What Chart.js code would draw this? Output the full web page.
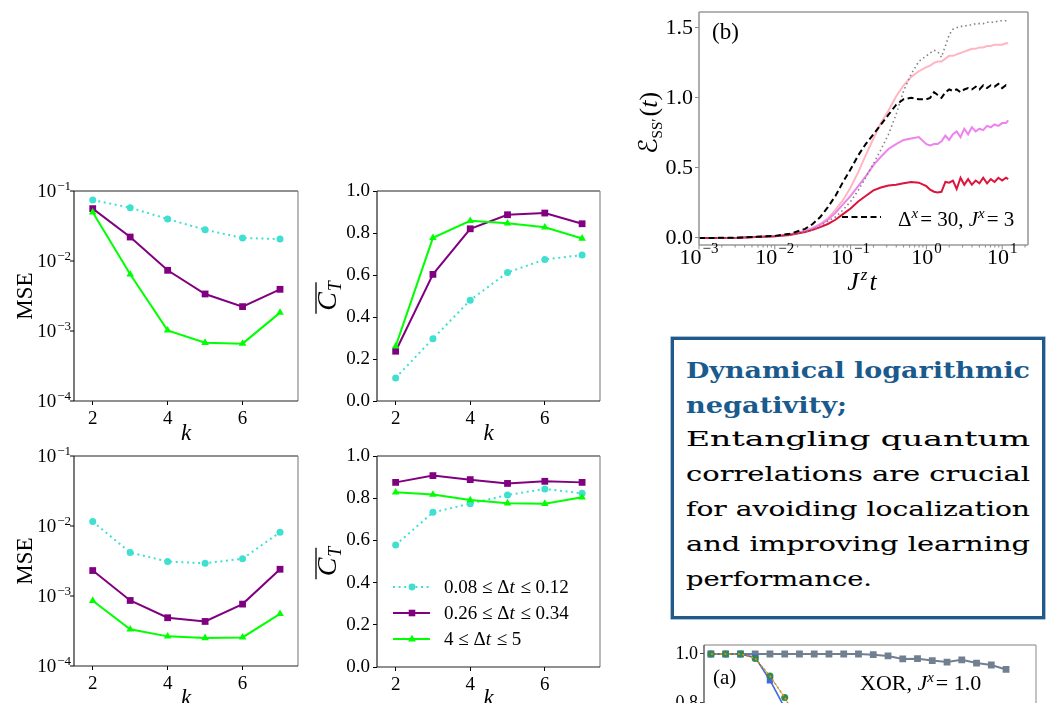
<!DOCTYPE html>
<html><head><meta charset="utf-8">
<script src="https://cdn.jsdelivr.net/npm/chart.js@4.4.0/dist/chart.umd.min.js"></script>
<style>
html,body{margin:0;padding:0;width:1060px;height:703px;overflow:hidden;background:#fff;position:relative;}
canvas{position:absolute;}
#note{position:absolute;left:671px;top:337px;width:344px;height:252px;border:3px solid #1f5a8a;padding:12px;box-shadow:0 0 0 0.6px #6f95b8;}
#note .ln{height:35px;line-height:35px;width:344px;white-space:nowrap;overflow:visible;}
#note .ln span{display:inline-block;transform-origin:0 50%;white-space:pre;}
#note .t{font-family:"DejaVu Serif",serif;font-weight:bold;font-size:23px;color:#1b5a8c;}
#note .b{font-family:"DejaVu Serif",serif;font-size:21px;color:#000;-webkit-text-stroke:0.1px #000;}
</style></head><body>
<div id="note">
<div class="ln t" data-w="344"><span>Dynamical logarithmic</span></div>
<div class="ln t" data-w="161"><span>negativity;</span></div>
<div class="ln b" data-w="344"><span>Entangling quantum</span></div>
<div class="ln b" data-w="344"><span>correlations are crucial</span></div>
<div class="ln b" data-w="344"><span>for avoiding localization</span></div>
<div class="ln b" data-w="344"><span>and improving learning</span></div>
<div class="ln b" data-w="186"><span>performance.</span></div>
</div>
<script>
// ---------------- data ----------------
const kValues = [2, 3, 4, 5, 6, 7];
const seriesLabels = ['0.08 ≤ Δt ≤ 0.12', '0.26 ≤ Δt ≤ 0.34', '4 ≤ Δt ≤ 5'];
const mseTopCyan   = [0.0743, 0.0578, 0.0398, 0.028, 0.0213, 0.0206];
const mseTopPurple = [0.056, 0.022, 0.00736, 0.00338, 0.00223, 0.00394];
const mseTopGreen  = [0.0496, 0.00646, 0.00102, 0.00068, 0.00066, 0.00183];
const ctTopCyan    = [0.11, 0.297, 0.48, 0.612, 0.674, 0.695];
const ctTopPurple  = [0.237, 0.603, 0.82, 0.887, 0.895, 0.844];
const ctTopGreen   = [0.26, 0.777, 0.858, 0.846, 0.827, 0.774];
const mseBotCyan   = [0.01156, 0.00418, 0.00311, 0.00294, 0.0034, 0.00815];
const mseBotPurple = [0.00231, 0.000863, 0.000489, 0.000433, 0.000766, 0.00241];
const mseBotGreen  = [0.000855, 0.000334, 0.000265, 0.000251, 0.000256, 0.000557];
const ctBotCyan    = [0.578, 0.733, 0.774, 0.815, 0.844, 0.823];
const ctBotPurple  = [0.875, 0.907, 0.888, 0.870, 0.880, 0.875];
const ctBotGreen   = [0.828, 0.817, 0.791, 0.776, 0.774, 0.804];
const kTicks = [2, 4, 6];
const mseExps = [-4, -3, -2, -1];
const ctTicks = [0, 0.2, 0.4, 0.6, 0.8, 1.0];

// panel (b)
const tB = [0.001, 0.00316, 0.01, 0.0158, 0.0251, 0.0316, 0.0398, 0.0501, 0.0631, 0.0794,
  0.1, 0.126, 0.158, 0.2, 0.251, 0.316, 0.398, 0.501, 0.631, 0.794,
  1.0, 1.12, 1.26, 1.41, 1.58, 1.78, 2.0, 2.24, 2.51, 2.82, 3.16, 3.55, 3.98, 4.47, 5.01, 5.62, 6.31, 7.08, 7.94, 8.91, 10.0, 11.2, 12.0];
const bBlack = [0, 0.002, 0.015, 0.03, 0.065, 0.10, 0.15, 0.22, 0.30, 0.40, 0.49, 0.59, 0.67, 0.74, 0.81, 0.88, 0.95, 0.99, 1.00, 0.99,
  0.99, 1.00, 1.04, 1.02, 1.00, 1.04, 1.06, 1.05, 1.06, 1.04, 1.06, 1.07, 1.06, 1.08, 1.06, 1.09, 1.07, 1.09, 1.08, 1.10, 1.07, 1.09, 1.08];
const bGray = [0, 0.002, 0.012, 0.022, 0.045, 0.06, 0.085, 0.12, 0.15, 0.20, 0.26, 0.34, 0.43, 0.53, 0.63, 0.74, 0.88, 1.05, 1.17, 1.26,
  1.30, 1.32, 1.34, 1.33, 1.29, 1.37, 1.45, 1.49, 1.50, 1.51, 1.51, 1.52, 1.52, 1.53, 1.53, 1.53, 1.54, 1.54, 1.54, 1.55, 1.55, 1.55, 1.55];
const bPink = [0, 0.002, 0.012, 0.025, 0.05, 0.07, 0.10, 0.14, 0.20, 0.27, 0.36, 0.47, 0.59, 0.71, 0.82, 0.91, 1.01, 1.09, 1.15, 1.19,
  1.22, 1.23, 1.25, 1.26, 1.26, 1.28, 1.30, 1.30, 1.31, 1.32, 1.33, 1.34, 1.35, 1.35, 1.36, 1.36, 1.37, 1.37, 1.38, 1.38, 1.38, 1.39, 1.39];
const bViolet = [0, 0.002, 0.012, 0.025, 0.05, 0.07, 0.095, 0.13, 0.18, 0.24, 0.30, 0.37, 0.44, 0.52, 0.58, 0.635, 0.67, 0.70, 0.71, 0.72,
  0.67, 0.66, 0.67, 0.67, 0.69, 0.73, 0.70, 0.74, 0.76, 0.72, 0.78, 0.74, 0.79, 0.76, 0.78, 0.77, 0.80, 0.79, 0.81, 0.80, 0.82, 0.82, 0.84];
const bRed = [0, 0.002, 0.012, 0.022, 0.042, 0.058, 0.078, 0.10, 0.13, 0.17, 0.21, 0.26, 0.30, 0.34, 0.36, 0.375, 0.38, 0.39, 0.40, 0.395,
  0.37, 0.345, 0.33, 0.325, 0.33, 0.40, 0.395, 0.41, 0.35, 0.43, 0.38, 0.42, 0.38, 0.41, 0.39, 0.43, 0.39, 0.42, 0.40, 0.43, 0.41, 0.43, 0.42];
const bExps = [-3, -2, -1, 0, 1];
const bYTicks = [0, 0.5, 1.0, 1.5];
const bLegend = 'Δx = 30, Jx = 3';

// panel (a), partially visible
const aIndex = [0, 1, 2, 3, 4, 5, 6, 7, 8, 9, 10, 11, 12, 13, 14, 15, 16, 17, 18, 19, 20];
const aGray = [1.0, 1.0, 1.0, 1.0, 1.0, 1.0, 1.0, 1.0, 1.0, 1.0, 1.0, 0.997, 0.992, 0.98, 0.981, 0.973, 0.967, 0.976, 0.963, 0.955, 0.937];
const aGreen = [1.0, 1.0, 1.0, 0.982, 0.91, 0.822, 0.72];
const aBlue = [1.0, 1.0, 1.0, 0.986, 0.893, 0.78, 0.66];
const aYTicks = [0.4, 0.6, 0.8, 1.0];

// ---------------- text box fitting ----------------
document.querySelectorAll('#note .ln').forEach(el => {
  const sp = el.firstElementChild;
  const w = sp.getBoundingClientRect().width;
  sp.style.transform = 'scaleX(' + (+el.dataset.w / w).toFixed(4) + ')';
});

// ---------------- helpers ----------------
const FONT = '"Liberation Serif", "Times New Roman", serif';
function fnt(p) { return (p.i ? 'italic ' : '') + (p.b ? 'bold ' : '') + p.s + 'px ' + (p.f || FONT); }
function rich(ctx, parts, x, y, align, rot) {
  ctx.save();
  ctx.translate(x, y);
  if (rot) ctx.rotate(rot);
  ctx.textBaseline = 'alphabetic'; ctx.textAlign = 'left';
  let total = 0;
  const ws = parts.map(p => { ctx.font = fnt(p); const w = ctx.measureText(p.t).width + (p.g || 0); total += w; return w; });
  let cx = align === 'center' ? -total / 2 : (align === 'right' ? -total : 0);
  const x0 = cx;
  parts.forEach((p, i) => { ctx.font = fnt(p); ctx.fillStyle = p.c || '#000'; ctx.fillText(p.t, cx, p.dy || 0); cx += ws[i]; });
  ctx.restore();
  return { x0, total };
}
function seg(ctx, x1, y1, x2, y2, col, lw) {
  ctx.beginPath(); ctx.strokeStyle = col; ctx.lineWidth = lw || 1; ctx.moveTo(x1, y1); ctx.lineTo(x2, y2); ctx.stroke();
}
function frame(ctx, a, cols, lw) {
  seg(ctx, a.l, a.t, a.r, a.t, cols[0], lw);
  seg(ctx, a.r, a.t, a.r, a.b, cols[1], lw);
  seg(ctx, a.l, a.b, a.r, a.b, cols[2], lw);
  seg(ctx, a.l, a.t, a.l, a.b, cols[3], lw);
}
function pow10(ctx, x, baseY, expY, e, size, expSize, align) {
  const es = (e < 0 ? '\u2212' : '') + Math.abs(e);
  ctx.save();
  ctx.font = size + 'px ' + FONT; const wb = ctx.measureText('10').width;
  ctx.font = expSize + 'px ' + FONT; const we = ctx.measureText(es).width;
  const tot = wb + we + 1;
  let sx = align === 'right' ? x - tot : x - tot / 2;
  ctx.fillStyle = '#000'; ctx.textAlign = 'left'; ctx.textBaseline = 'alphabetic';
  ctx.font = size + 'px ' + FONT; ctx.fillText('10', sx, baseY);
  ctx.font = expSize + 'px ' + FONT; ctx.fillText(es, sx + wb + 1, expY);
  ctx.restore();
}
function marker(ctx, style, x, y, col) {
  ctx.save(); ctx.fillStyle = col; ctx.beginPath();
  if (style === 'circle') { ctx.arc(x, y, 3.4, 0, Math.PI * 2); }
  else if (style === 'rect') { ctx.rect(x - 3.3, y - 3.3, 6.6, 6.6); }
  else { ctx.moveTo(x, y - 4.3); ctx.lineTo(x + 3.9, y + 2.4); ctx.lineTo(x - 3.9, y + 2.4); ctx.closePath(); }
  ctx.fill(); ctx.restore();
}

function makeChart(o) {
  const box = o.box, area = o.area;
  const cv = document.createElement('canvas');
  cv.width = box.w; cv.height = box.h;
  cv.style.left = box.x + 'px'; cv.style.top = box.y + 'px';
  cv.style.width = box.w + 'px'; cv.style.height = box.h + 'px';
  document.body.appendChild(cv);
  const yW = o.yW, xH = o.xH;
  o.xScale.afterFit = s => { s.height = xH; };
  o.yScale.afterFit = s => { s.width = yW; };
  return new Chart(cv, {
    type: 'line',
    data: { datasets: o.datasets },
    options: {
      responsive: false, animation: false, devicePixelRatio: 1, events: [],
      layout: { padding: { left: area.l - box.x - yW, top: area.t - box.y, right: box.x + box.w - area.r, bottom: box.y + box.h - area.b - xH } },
      plugins: { legend: { display: false }, tooltip: { enabled: false }, title: { display: false } },
      scales: { x: o.xScale, y: o.yScale }
    },
    plugins: [{ id: 'deco', afterDraw(chart) {
      const ctx = chart.ctx; ctx.save(); ctx.translate(-box.x, -box.y);
      const X = v => chart.scales.x.getPixelForValue(v) + box.x;
      const Y = v => chart.scales.y.getPixelForValue(v) + box.y;
      o.draw(ctx, X, Y); ctx.restore(); } }]
  });
}

function pts(xs, ys) { return ys.map((y, i) => ({ x: xs[i], y })); }
const STY = {
  cyan:   { borderColor: '#40e0d0', backgroundColor: '#40e0d0', borderWidth: 2, borderDash: [2, 3.6], pointStyle: 'circle', pointRadius: 3.5, pointBorderWidth: 0 },
  purple: { borderColor: '#800080', backgroundColor: '#800080', borderWidth: 2, pointStyle: 'rect', pointRadius: 4.8, pointBorderWidth: 0 },
  green:  { borderColor: '#00ff00', backgroundColor: '#00ff00', borderWidth: 2, pointStyle: 'triangle', pointRadius: 4.4, pointBorderWidth: 0 }
};
function kSeries(c, p, g) {
  return [
    Object.assign({ label: seriesLabels[2], data: pts(kValues, g), tension: 0, fill: false }, STY.green),
    Object.assign({ label: seriesLabels[1], data: pts(kValues, p), tension: 0, fill: false }, STY.purple),
    Object.assign({ label: seriesLabels[0], data: pts(kValues, c), tension: 0, fill: false }, STY.cyan)
  ];
}
function kAxis() {
  return {
    type: 'linear', min: 1.5, max: 7.48,
    afterBuildTicks: s => { s.ticks = kTicks.map(v => ({ value: v })); },
    ticks: { maxRotation: 0, autoSkip: false, color: '#000', font: { family: FONT, size: 19 }, padding: 3, callback: v => String(v) },
    grid: { display: true, drawOnChartArea: false, drawTicks: true, tickLength: 4, tickColor: '#000', tickWidth: 1 },
    border: { display: false }
  };
}
function mseAxis() {
  return {
    type: 'logarithmic', min: 1e-4, max: 1e-1,
    afterBuildTicks: s => { s.ticks = mseExps.map(e => ({ value: Math.pow(10, e) })); },
    ticks: { display: false }, grid: { display: false }, border: { display: false }
  };
}
function ctAxis() {
  return {
    type: 'linear', min: 0, max: 1,
    afterBuildTicks: s => { s.ticks = ctTicks.map(v => ({ value: v })); },
    ticks: { color: '#000', font: { family: FONT, size: 19 }, padding: 3, callback: v => v.toFixed(1) },
    grid: { display: true, drawOnChartArea: false, drawTicks: true, tickLength: 4, tickColor: '#000', tickWidth: 1 },
    border: { display: false }
  };
}
const SPINE = ['#222', '#8a8a8a', '#222', '#222'];
function kLabel(ctx, a, y) { rich(ctx, [{ t: 'k', s: 23, i: true }], (a.l + a.r) / 2, y, 'center'); }
function mseDecor(ctx, Y, a, kY) {
  frame(ctx, a, SPINE, 1.2);
  mseExps.forEach(e => {
    const y = Y(Math.pow(10, e));
    seg(ctx, a.l - 4, y, a.l, y, '#000', 1);
    pow10(ctx, a.l - 3, y + 6, y - 1, e, 19, 13, 'right');
  });
  rich(ctx, [{ t: 'MSE', s: 23 }], 32, (a.t + a.b) / 2, 'center', -Math.PI / 2);
  kLabel(ctx, a, kY);
}
function ctDecor(ctx, a, kY) {
  frame(ctx, a, SPINE, 1.2);
  const cy = (a.t + a.b) / 2;
  const r = rich(ctx, [{ t: 'C', s: 28, i: true, g: 1 }, { t: 'T', s: 18, i: true, dy: 5 }], 336, cy, 'center', -Math.PI / 2);
  seg(ctx, 316, cy - r.x0 - r.total + 1, 316, cy - r.x0 + 3, '#000', 1.3);
  kLabel(ctx, a, kY);
}

// ---------------- panel 1: MSE top ----------------
const A1 = { l: 74, t: 191, r: 298, b: 401 };
makeChart({ box: { x: 0, y: 165, w: 315, h: 285 }, area: A1, yW: 40, xH: 30,
  xScale: kAxis(), yScale: mseAxis(), datasets: kSeries(mseTopCyan, mseTopPurple, mseTopGreen),
  draw: (ctx, X, Y) => mseDecor(ctx, Y, A1, 440) });

// ---------------- panel 2: C_T top ----------------
const A2 = { l: 377, t: 191, r: 600, b: 401 };
makeChart({ box: { x: 308, y: 165, w: 322, h: 285 }, area: A2, yW: 40, xH: 30,
  xScale: kAxis(), yScale: ctAxis(), datasets: kSeries(ctTopCyan, ctTopPurple, ctTopGreen),
  draw: (ctx, X, Y) => ctDecor(ctx, A2, 440) });

// ---------------- panel 3: MSE bottom ----------------
const A3 = { l: 74, t: 456, r: 298, b: 666 };
makeChart({ box: { x: 0, y: 440, w: 315, h: 263 }, area: A3, yW: 40, xH: 30,
  xScale: kAxis(), yScale: mseAxis(), datasets: kSeries(mseBotCyan, mseBotPurple, mseBotGreen),
  draw: (ctx, X, Y) => mseDecor(ctx, Y, A3, 705) });

// ---------------- panel 4: C_T bottom with legend ----------------
const A4 = { l: 377, t: 456, r: 600, b: 667 };
makeChart({ box: { x: 308, y: 440, w: 322, h: 263 }, area: A4, yW: 40, xH: 30,
  xScale: kAxis(), yScale: ctAxis(), datasets: kSeries(ctBotCyan, ctBotPurple, ctBotGreen),
  draw: (ctx, X, Y) => {
    ctDecor(ctx, A4, 705);
    const rows = [
      { y: 587, col: '#40e0d0', dash: [2, 3.6], m: 'circle' },
      { y: 613, col: '#800080', dash: [], m: 'rect' },
      { y: 639, col: '#00ff00', dash: [], m: 'triangle' }
    ];
    rows.forEach((r, i) => {
      ctx.save(); ctx.setLineDash(r.dash); seg(ctx, 393, r.y, 430, r.y, r.col, 2); ctx.restore();
      marker(ctx, r.m, 412, r.y, r.col);
      const lab = seriesLabels[i];
      const idx = lab.indexOf('t');
      rich(ctx, [{ t: lab.slice(0, idx), s: 19 }, { t: 't', s: 19, i: true, g: 1 }, { t: lab.slice(idx + 1), s: 19 }], 444, r.y + 6, 'left');
    });
  } });

// ---------------- panel (b) ----------------
const AB = { l: 699, t: 12, r: 1028, b: 245 };
const bLine = (data, col, extra) => Object.assign({ data: pts(tB, data), borderColor: col, backgroundColor: col, borderWidth: 2, pointRadius: 0, tension: 0, fill: false }, extra || {});
makeChart({ box: { x: 635, y: 0, w: 425, h: 300 }, area: AB, yW: 50, xH: 30,
  xScale: { type: 'logarithmic', min: 0.001, max: 21.9,
    afterBuildTicks: s => { s.ticks = bExps.map(e => ({ value: Math.pow(10, e) })); },
    ticks: { display: false }, grid: { display: false }, border: { display: false } },
  yScale: { type: 'linear', min: -0.05, max: 1.59,
    afterBuildTicks: s => { s.ticks = bYTicks.map(v => ({ value: v })); },
    ticks: { color: '#000', font: { family: FONT, size: 22 }, padding: 2, callback: v => v.toFixed(1) },
    grid: { display: true, drawOnChartArea: false, drawTicks: true, tickLength: 4, tickColor: '#888', tickWidth: 1 },
    border: { display: false } },
  datasets: [
    bLine(bBlack, '#000000', { label: bLegend, borderDash: [6, 3.5], borderWidth: 2 }),
    bLine(bGray, '#808080', { borderDash: [1.5, 3], borderWidth: 1.6 }),
    bLine(bRed, '#dc143c'),
    bLine(bViolet, '#ee82ee'),
    bLine(bPink, '#ffb6c1')
  ],
  draw: (ctx, X, Y) => {
    frame(ctx, AB, ['#9a9a9a', '#9a9a9a', '#9a9a9a', '#9a9a9a'], 1.6);
    bExps.forEach(e => {
      const x = X(Math.pow(10, e));
      seg(ctx, x, AB.b, x, AB.b + 4.5, '#888', 1);
      pow10(ctx, x, AB.b + 19, AB.b + 8, e, 22, 15, 'center');
      for (let m = 2; m <= 9; m++) {
        const v = m * Math.pow(10, e);
        if (v > 21.9) break;
        const xm = X(v);
        seg(ctx, xm, AB.b, xm, AB.b + 2.5, '#888', 1);
      }
    });
    rich(ctx, [{ t: '(b)', s: 23 }], 712, 39, 'left');
    ctx.save(); ctx.setLineDash([6, 3.5]); seg(ctx, 842, 217, 881, 217, '#000', 2); ctx.restore();
    rich(ctx, [{ t: 'Δ', s: 21 }, { t: 'x', s: 15, i: true, dy: -8, g: 2 }, { t: '= 30, ', s: 21 }, { t: 'J', s: 21, i: true }, { t: 'x', s: 15, i: true, dy: -8, g: 2 }, { t: '= 3', s: 21 }], 898, 226, 'left');
    rich(ctx, [{ t: 'J', s: 26, i: true, g: 2 }, { t: 'z', s: 17, i: true, dy: -10, g: 2 }, { t: 't', s: 26, i: true }], 862, 290, 'center');
    rich(ctx, [{ t: 'ℰ', s: 26, i: true, f: '"DejaVu Serif", "DejaVu Sans", serif' }, { t: 'SS′', s: 15, dy: 5, g: 2 }, { t: '(', s: 26 }, { t: 't', s: 26, i: true }, { t: ')', s: 26 }], 657, 123, 'center', -Math.PI / 2);
  } });

// ---------------- panel (a), cut by the page edge ----------------
const AA = { l: 704, t: 645, r: 1036, b: 825.5 };
makeChart({ box: { x: 640, y: 625, w: 420, h: 230 }, area: AA, yW: 50, xH: 10,
  xScale: { type: 'linear', min: -0.47, max: 22.03, ticks: { display: false }, grid: { display: false }, border: { display: false } },
  yScale: { type: 'linear', min: 0.3, max: 1.0367,
    afterBuildTicks: s => { s.ticks = aYTicks.map(v => ({ value: v })); },
    ticks: { color: '#000', font: { family: FONT, size: 18 }, padding: 2, callback: v => v.toFixed(1) },
    grid: { display: true, drawOnChartArea: false, drawTicks: true, tickLength: 4, tickColor: '#444', tickWidth: 1 },
    border: { display: false } },
  datasets: [
    { data: pts(aIndex, aGreen), borderColor: '#ff8c00', borderWidth: 1.6, borderDash: [2, 2.5], pointRadius: 0, tension: 0, fill: false },
    { data: pts(aIndex, aGreen), borderColor: 'rgba(46,139,87,0.6)', backgroundColor: '#2e8b57', borderWidth: 1, pointStyle: 'circle', pointRadius: 3.5, pointBorderWidth: 0, tension: 0, fill: false },
    { data: pts(aIndex, aBlue), borderColor: '#4169e1', backgroundColor: '#4169e1', borderWidth: 1.6, pointStyle: 'rect', pointRadius: 4.5, pointBorderWidth: 0, tension: 0, fill: false },
    { data: pts(aIndex, aGray), borderColor: '#708090', backgroundColor: '#708090', borderWidth: 2, pointStyle: 'rect', pointRadius: 4.8, pointBorderWidth: 0, tension: 0, fill: false }
  ],
  draw: (ctx, X, Y) => {
    frame(ctx, AA, ['#aaaaaa', '#aaaaaa', '#aaaaaa', '#555555'], 1.4);
    rich(ctx, [{ t: '(a)', s: 21 }], 713, 684, 'left');
    rich(ctx, [{ t: 'XOR, ', s: 22 }, { t: 'J', s: 22, i: true }, { t: 'x', s: 15, i: true, dy: -8, g: 2 }, { t: '= 1.0', s: 22 }], 860, 690, 'left');
  } });
</script>
</body></html>
